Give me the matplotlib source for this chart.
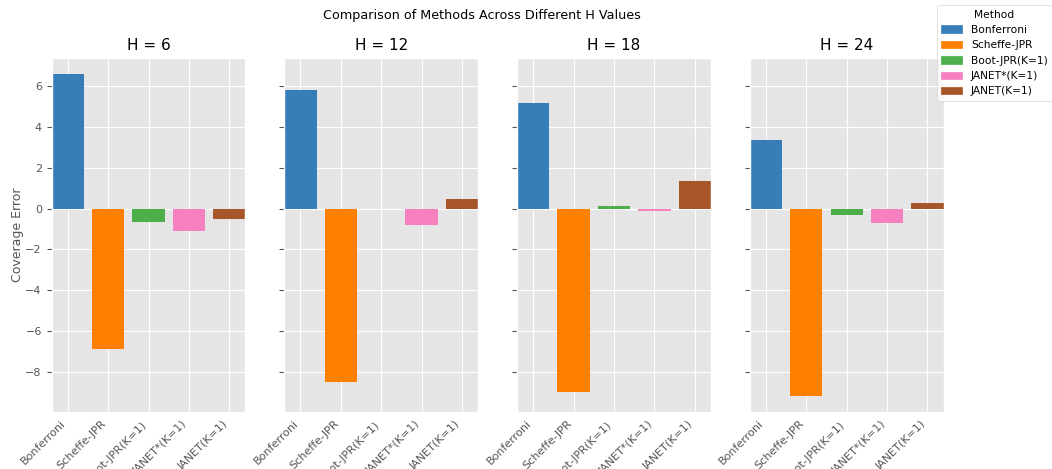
import matplotlib
matplotlib.use("Agg")
import matplotlib.pyplot as plt
from matplotlib.patches import Patch

plt.style.use("ggplot")

methods = ["Bonferroni", "Scheffe-JPR", "Boot-JPR(K=1)", "JANET*(K=1)", "JANET(K=1)"]
colors = ["#377eb8", "#ff7f00", "#4daf4a", "#f781bf", "#a65628"]
h_values = [6, 12, 18, 24]

# coverage error per method, one list per H
err_h6 = [6.6, -6.9, -0.63, -1.1, -0.52]
err_h12 = [5.85, -8.5, 0.0, -0.81, 0.49]
err_h18 = [5.17, -9.0, 0.12, -0.13, 1.38]
err_h24 = [3.37, -9.18, -0.33, -0.72, 0.29]
errors = [err_h6, err_h12, err_h18, err_h24]

fig, axes = plt.subplots(1, 4, figsize=(10.52, 4.69), dpi=100, sharey=True)
fig.subplots_adjust(left=0.049, right=0.897, top=0.876, bottom=0.122, wspace=0.2)

for ax, h, vals in zip(axes, h_values, errors):
    x = range(len(methods))
    ax.bar(x, vals, color=colors, width=0.8)
    ax.set_xticks(list(x))
    ax.set_xticklabels(methods, rotation=45, ha="right", fontsize=8)
    ax.tick_params(axis="x", length=0, pad=5)
    ax.set_xlim(-0.4, 4.4)
    ax.set_title(f"H = {h}", fontsize=11, color="black")
    ax.tick_params(axis="y", labelsize=8)

axes[0].set_ylabel("Coverage Error", fontsize=9, labelpad=1)
fig.suptitle("Comparison of Methods Across Different H Values", fontsize=9.2,
             x=0.458, y=0.98)

handles = [Patch(color=c, label=m) for m, c in zip(methods, colors)]
fig.legend(handles=handles, title="Method", loc="upper right",
           bbox_to_anchor=(1.005, 1.0), fontsize=7.7, title_fontsize=7.7,
           facecolor="white", edgecolor="#cccccc", framealpha=0.8)

fig.savefig("out.png", dpi=100)
